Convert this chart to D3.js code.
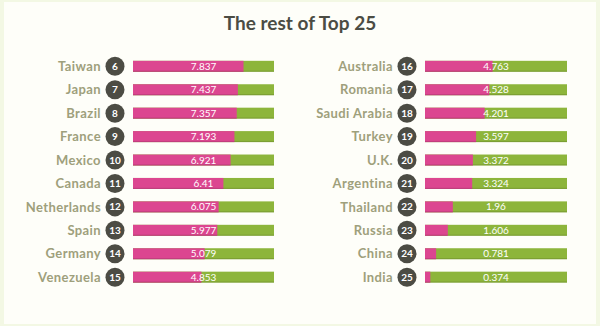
<!DOCTYPE html>
<html>
<head>
<meta charset="utf-8">
<script src="https://cdn.jsdelivr.net/npm/d3@7"></script>
<style>
  html, body { margin: 0; padding: 0; background: #ffffff; }
  svg { display: block; }
</style>
</head>
<body>
<svg id="chart" width="600" height="326"></svg>
<script>
// Ranks 6–15 (left column) and 16–25 (right column)
const leftCountries = ["Taiwan", "Japan", "Brazil", "France", "Mexico", "Canada", "Netherlands", "Spain", "Germany", "Venezuela"];
const leftRanks = [6, 7, 8, 9, 10, 11, 12, 13, 14, 15];
const leftValues = [7.837, 7.437, 7.357, 7.193, 6.921, 6.41, 6.075, 5.977, 5.079, 4.853];

const rightCountries = ["Australia", "Romania", "Saudi Arabia", "Turkey", "U.K.", "Argentina", "Thailand", "Russia", "China", "India"];
const rightRanks = [16, 17, 18, 19, 20, 21, 22, 23, 24, 25];
const rightValues = [4.763, 4.528, 4.201, 3.597, 3.372, 3.324, 1.96, 1.606, 0.781, 0.374];

const valueMax = 10;
const title = "The rest of Top 25";

const svg = d3.select("#chart");
const W = 600, H = 326;

// background panel
svg.append("rect").attr("x", 0).attr("y", 0).attr("width", W).attr("height", H).attr("fill", "#f3f8e4");
svg.append("rect").attr("x", 4).attr("y", 2).attr("width", W - 8).attr("height", H - 4).attr("fill", "#fefef9");

svg.append("text")
  .attr("x", 300).attr("y", 30)
  .attr("text-anchor", "middle")
  .attr("font-family", "Lato, 'Open Sans', sans-serif")
  .attr("font-weight", 700)
  .attr("font-size", 19)
  .attr("fill", "#4b4c44")
  .text(title);

const pink = "#dc4690", green = "#8db53b";
const labelColor = "#9ea07c", badgeColor = "#4c4c44";

const y = d3.scaleBand().domain(d3.range(10)).range([54.5, 289]).paddingInner(0.53).paddingOuter(0.27);

function column(countries, ranks, values, barStart, barEnd) {
  const x = d3.scaleLinear().domain([0, valueMax]).range([barStart, barEnd]);
  const rows = countries.map((c, i) => ({ c, r: ranks[i], v: values[i], i }));
  const g = svg.append("g");
  const row = g.selectAll("g.row").data(rows).join("g").attr("class", "row");
  const bh = y.bandwidth();

  // full-scale track (green)
  row.append("rect")
    .attr("x", x(0)).attr("y", d => y(d.i))
    .attr("width", x(valueMax) - x(0)).attr("height", bh)
    .attr("fill", green);
  // value portion (pink)
  row.append("rect")
    .attr("x", x(0)).attr("y", d => y(d.i))
    .attr("width", d => x(d.v) - x(0)).attr("height", bh)
    .attr("fill", pink);
  // subtle bottom shading on the bar
  row.append("rect")
    .attr("x", x(0)).attr("y", d => y(d.i) + bh - 1.2)
    .attr("width", x(valueMax) - x(0)).attr("height", 1.2)
    .attr("fill", "#000").attr("opacity", 0.12);

  row.append("text")
    .attr("x", (x(0) + x(valueMax)) / 2)
    .attr("y", d => y(d.i) + bh / 2)
    .attr("dy", "0.36em")
    .attr("text-anchor", "middle")
    .attr("font-family", "Lato, 'Open Sans', sans-serif")
    .attr("font-size", 10)
    .attr("fill", "#ffffff")
    .text(d => d.v);

  const cx = barStart - 18;
  row.append("circle")
    .attr("cx", cx).attr("cy", d => y(d.i) + bh / 2)
    .attr("r", 9.5)
    .attr("fill", badgeColor);
  row.append("text")
    .attr("x", cx).attr("y", d => y(d.i) + bh / 2)
    .attr("dy", "0.36em")
    .attr("text-anchor", "middle")
    .attr("font-family", "Lato, 'Open Sans', sans-serif")
    .attr("font-weight", 700)
    .attr("font-size", 10)
    .attr("fill", "#ffffff")
    .text(d => d.r);

  row.append("text")
    .attr("x", cx - 14).attr("y", d => y(d.i) + bh / 2)
    .attr("dy", "0.36em")
    .attr("text-anchor", "end")
    .attr("font-family", "Lato, 'Open Sans', sans-serif")
    .attr("font-weight", 700)
    .attr("font-size", 13)
    .attr("letter-spacing", 0.4)
    .attr("fill", labelColor)
    .text(d => d.c);
}

column(leftCountries, leftRanks, leftValues, 133, 274);
column(rightCountries, rightRanks, rightValues, 425, 567);
</script>
</body>
</html>
